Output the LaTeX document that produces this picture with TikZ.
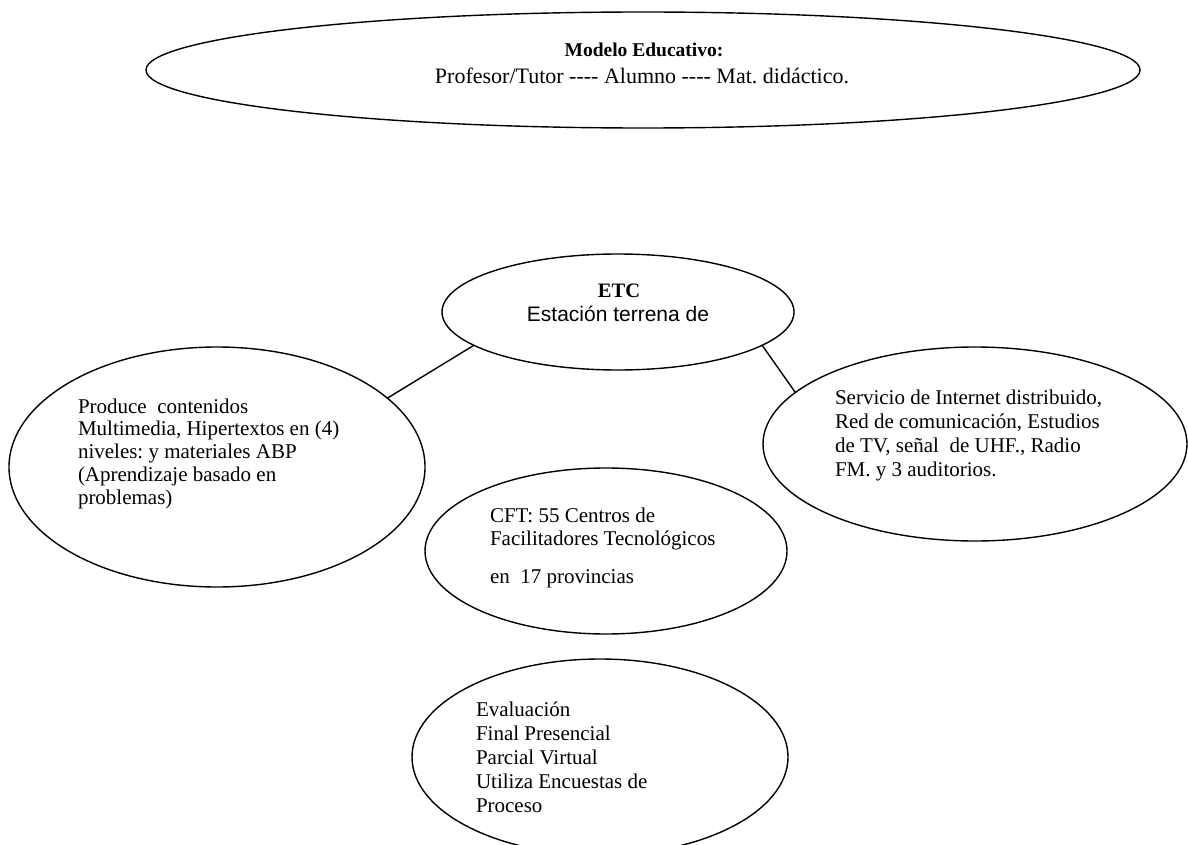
\documentclass[tikz,border=0pt]{standalone}
\usepackage{fontspec}
\setmainfont{Liberation Serif}
\newfontfamily\arialf{Liberation Sans}
\usetikzlibrary{shapes.geometric}
\newcommand\myhyph{-\kern0pt}
\frenchspacing
\begin{document}
\begin{tikzpicture}[x=1pt,y=-1pt,
  bubble/.style={draw, ellipse, line width=1.4pt, inner sep=0pt, outer sep=0pt},
  link/.style={draw, line width=1.4pt},
  txt/.style={anchor=base west, inner sep=0pt, outer sep=0pt},
  ctxt/.style={anchor=base, inner sep=0pt, outer sep=0pt}]
\useasboundingbox (0,0) rectangle (1188,845);
% ellipses
\node[bubble, minimum width=994pt, minimum height=116pt] (modelo) at (643,70) {};
\node[bubble, minimum width=352pt, minimum height=116pt] (etc) at (618,312) {};
\node[bubble, minimum width=416pt, minimum height=240pt] (prod) at (217,467) {};
\node[bubble, minimum width=424pt, minimum height=194pt] (serv) at (975,444) {};
\node[bubble, minimum width=362pt, minimum height=166pt] (cft) at (606,551) {};
\node[bubble, minimum width=376pt, minimum height=196pt] (eval) at (600,757) {};
% texts
\node[ctxt] (modelot) at (644,57) {\fontsize{19.5}{22}\selectfont\bfseries Modelo Educativo:};
\node[ctxt] (modelop) at (642,84) {\fontsize{22}{25}\selectfont Profesor/Tutor \myhyph\myhyph\myhyph- Alumno \myhyph\myhyph\myhyph- Mat. didáctico.};
\node[ctxt] (etct) at (619,297) {\fontsize{20.5}{22}\selectfont\bfseries ETC};
\node[ctxt] (etcs) at (618,321.5) {\fontsize{21}{23}\selectfont\arialf Estación terrena de};
\node[txt] (prodt) at (78,413) {\fontsize{21}{22.75}\selectfont\begin{tabular}[t]{@{}l@{}}Produce~ contenidos\\ Multimedia, Hipertextos en (4)\\ niveles: y materiales ABP\\ (Aprendizaje basado en\\ problemas)\end{tabular}};
\node[txt] (servt) at (835,404) {\fontsize{21}{24.3}\selectfont\begin{tabular}[t]{@{}l@{}}Servicio de Internet distribuido,\\ Red de comunicación, Estudios\\ de TV, señal~ de UHF., Radio\\ FM. y 3 auditorios.\end{tabular}};
\node[txt] (cftt) at (490,522.5) {\fontsize{21}{22.5}\selectfont\begin{tabular}[t]{@{}l@{}}CFT: 55 Centros de\\ Facilitadores Tecnológicos\\[15.5pt] en~ 17 provincias\end{tabular}};
\node[txt] (evalt) at (476,716) {\fontsize{21}{24}\selectfont\begin{tabular}[t]{@{}l@{}}Evaluación\\ Final Presencial\\ Parcial Virtual\\ Utiliza Encuestas de\\ Proceso\end{tabular}};
% connectors
\path[link] (prod.22) -- (etc.193.75);
\path[link] (etc.-13.9) -- (serv.164.8);
\end{tikzpicture}
\end{document}
